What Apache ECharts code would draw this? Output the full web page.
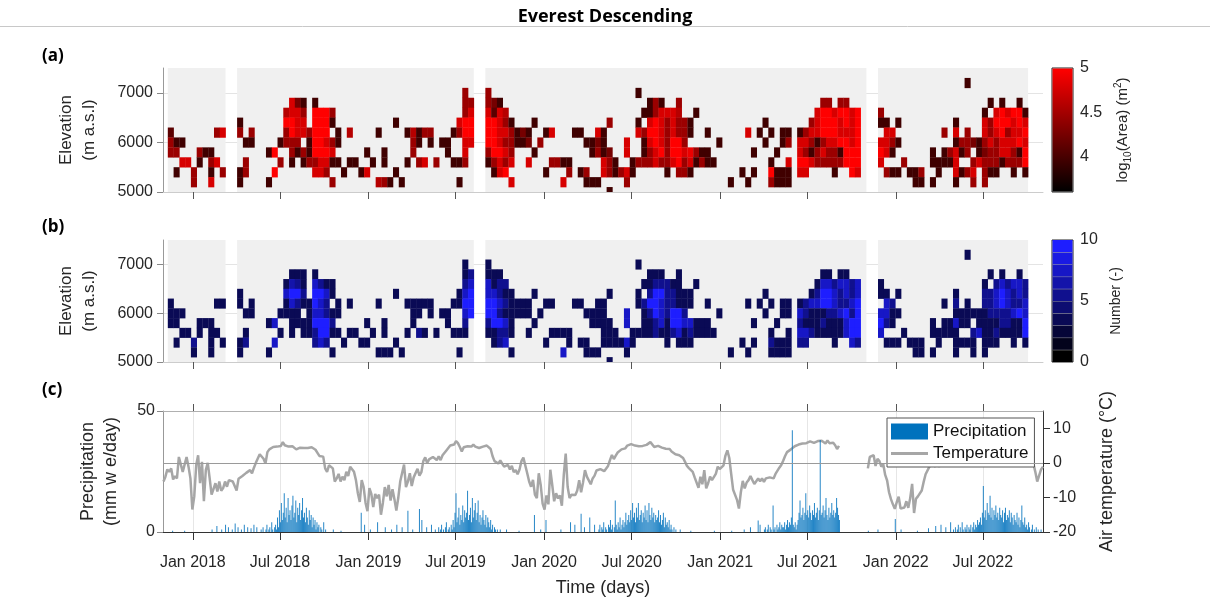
<!DOCTYPE html>
<html><head><meta charset="utf-8">
<script src="https://cdn.jsdelivr.net/npm/echarts@6/dist/echarts.min.js"></script>
<style>html,body{margin:0;padding:0;background:#fff}#chart{width:1210px;height:598px}</style>
</head><body><div id="chart"></div>
<script>
// ---------------- DATA ----------------
const cellStart = '2017-10-29';   // start of 12-day bin 0
const cellDays = 12;
const binHeight = 200;            // m
const elevations = [7200,7000,6800,6600,6400,6200,6000,5800,5600,5400,5200,5000];
// availability (grey) in bin indices
const availableCols = [[1,10],[13,53],[56,121],[124,149]];
// log10(Area) read as levels 1..9 (see areaLevels), "startCol:levels", '.' = empty
const areaLevels = [null, 3.75, 3.95, 4.1, 4.25, 4.45, 4.6, 4.78, 4.9, 5.0];
const areaRows = [
"139:2",
"52:5 56:5 82:2",
"22:742.2 52:55 56:542 84:252..5 114:55.55 143:2.2..2",
"21:6775.9995 52:57 56:7376 83:2257776 92:2 113:79979979 124:5 142:2.797992",
"13:2 21:9977.9992 40:2 51:799 56:99752 64:2 77:5 82:2.79757552 104:2 112:579997979 124:22.2 137:2 142:75999797",
"1:3 9:57 13:5.5 21:59775999.2 32:6 37:2 42:26255 50:2599 56:99775242 66:27 71:22 75:72 82:7599757552 94:2 101:7 103:2.2.22 110:25779997779 125:77 135:5.7.5 142:75795779",
"1:522 14:22 20:2555.299752 43:52.2.22 52:77 56:99755224.5 73:2242 80:7 83:27975995 96:2 104:2 107:25 110:77525779979 124:7752 137:2554257577797",
"1:55 6:522 18:29 22:52529997 35:2 38:2 43:5 49:2 52:7 56:59975 64:2 74:2524 80:7 83:257959978522 102:2 106:2 110:75257552999 124:972 133:2.25725.245577529",
"3:77 6:2.57 14:5 20:5.2.2557722 32:22 36:2 38:2 42:2 44:57 47:5 50:225 56:25757 63:7 67:5522 76:752 81:255575579572522 105:2 108:7 110:99755555999 124:7 128:5 133:22227 140:5755525559",
"2:2 5:5 8:2 10:5 13:25 19:9 26:775 31:2 34:27 40:2 57:279 66:2 70:5 72:25 76:752572 87:2 89:552 100:2 102:2 105:9222 110:77 116:2 119:97 125:522 129:225 134:2 137:7257 142:522 147:2 149:2",
"5:5 8:7 13:2 18:2 29:5 37:652 41:2 51:2 60:7 69:7 73:222 80:5 98:2 101:2 105:5222 130:22 133:2 137:2 140:5 142:5",
"77:2"
];
// detection counts, same layout
const countRows = [
"139:3",
"52:3 56:3 82:3",
"22:333.3 52:35 56:333 84:333..3 114:33.33 143:3.3..3",
"21:3653.7533 52:57 56:7355 83:3355533 92:3 113:37757757 124:3 142:3.575775",
"13:3 21:7995.9973 40:3 51:379 56:77533 64:3 77:3 82:3.59955333 104:3 112:359975757 124:33.3 137:3 142:55797575",
"1:3 9:33 13:3.3 21:37533975.3 32:3 37:3 42:33333 50:3399 56:99753333 66:33 71:33 75:33 82:3599755333 94:3 101:3 103:3.3.33 110:35779975579 125:75 135:3.5.3 142:55797557",
"1:333 14:33 20:3333.377533 43:33.3.33 52:79 56:99533333.3 73:3333 80:7 83:35975995 96:3 104:3 107:33 110:75333557959 124:7733 137:3333335555797",
"1:33 6:333 18:37 22:33339995 35:3 38:3 43:3 49:3 52:5 56:59973 64:3 74:3333 80:7 83:335739977333 102:3 106:3 110:53335333799 124:953 133:3.33733.333355339",
"3:33 6:3.33 14:3 20:3.3.3359933 32:33 36:3 38:3 42:3 44:53 47:3 50:333 56:33553 63:3 67:3333 76:333 81:333353357353333 105:3 108:3 110:77533333799 124:7 128:3 133:33333 140:5733533339",
"2:3 5:5 8:3 10:3 13:35 19:7 26:575 31:3 34:33 40:3 57:357 66:3 70:3 72:33 76:333373 87:3 89:333 100:3 102:3 105:5333 110:55 116:3 119:75 125:333 129:333 134:3 137:3333 142:333 147:3 149:3",
"5:3 8:3 13:3 18:3 29:3 37:333 41:3 51:3 60:3 69:7 73:333 80:3 98:3 101:3 105:3333 130:33 133:3 137:3 140:3 142:3",
"77:3"
];
const blueBands = ['#000000','#03031c','#060638','#0a0a55','#0d0d71','#10108e','#1414aa','#1717c6','#1a1ae3','#1e1eff'];

const tickDates = ['2018-01-01','2018-07-01','2019-01-01','2019-07-01','2020-01-01','2020-07-01','2021-01-01','2021-07-01','2022-01-01','2022-07-01'];

// air temperature (°C), 4-day step from tempStart (null = no data)
const tempStart = '2017-11-01';
const tempStepDays = 4;
const tempValues = [
-5.4,-4.0,-1.9,-2.6,-1.6,-4.8,-3.8,-4.5,1.7,1.7,
-2.6,-3.0,1.7,-1.1,-4.5,-13.5,-9.7,-0.7,2.2,-5.9,
0.3,-11.1,-2.1,0,-4.5,-9.2,-9.7,-5.9,-8.3,-5.4,
-8.1,-7.3,-5.4,-6.9,-5.0,-5.4,-5.4,-5.0,-8.0,-4.6,
-4.7,-3.8,-3.8,-2.9,-3.4,-2.1,-3.0,-1.4,0,0.2,
2.5,3.0,1.2,-0.2,3.1,3.9,4.3,4.6,4.6,4.7,
5.0,4.9,6.0,5.1,4.8,4.7,4.6,4.8,4.4,3.9,
4.1,4.4,4.4,4.3,4.4,4.3,4.4,4.5,4.5,3.8,
2.9,2.0,2.5,1.8,-1.6,-2.6,-0.7,-0.2,-1.6,-5.4,
-4.5,-3.2,-5.4,-4.0,-5.0,-2.6,-3.8,-1.1,-1.3,-2.6,
-5.0,-8.8,-11.3,-5.0,-7.0,-11.6,-14,-7.3,-9.0,-12.8,
-9.0,-10.2,-9.2,-15,-11.6,-7.0,-9.7,-6.4,-10.9,-7.6,
-10.5,-13.8,-10.1,-5.4,-5.0,-0.5,-7.0,-5.4,-3.0,-6.7,
-4.2,-4.5,-1.7,-3.7,-2.7,0.5,1.6,-0.1,1.0,1.0,
1.7,1.7,0.8,1.9,0.8,2.2,2.7,3.6,4.0,5.0,
4.8,5.3,6.3,5.7,4.6,3.3,4.5,4.4,4.8,5.0,
4.7,5.3,4.7,4.9,4.3,4.1,4.7,4.2,5.0,4.6,
4.0,1.9,0.5,1.0,-0.2,0.7,-0.2,-1.1,-1.4,-0.6,
-1.9,-0.9,-2.7,-2.1,-3.3,-1.9,0.5,1.5,1.5,-3.0,
-5.4,-6.9,-4.9,-9.2,-10.2,-3.0,-6.4,-11.8,-13.5,-9.4,
-12.0,-2,-6.4,-11.1,-8.8,-10.3,-9.4,-12.4,-3.5,2.7,
-6.9,-10.2,-9.2,-9.2,-9.3,-8.0,-5.0,-8.5,-5.7,-2.1,
-4.0,-4.4,-6.2,-4.5,-3.7,-2.2,-2.5,-1.8,-1.5,-2.4,
-2.8,-0.9,0.8,2.3,1.1,2.1,3.0,3.0,3.9,4.2,
4.2,5.0,4.6,5.4,5.0,5.0,5.3,4.8,5.0,4.9,
5.2,5.2,5.0,6.0,5.6,4.6,5.0,4.9,4.9,4.4,
4.5,4.1,3.6,4.0,3.3,2.9,2.5,2.6,2.2,2.6,
1.4,0.3,-0.9,-1.5,-1.2,-2.6,-4.2,-4.5,-7.2,-4.0,
-6.2,-2.1,-7.4,-5.9,-4.0,-5.0,-5.4,-3.2,-1.1,-1.8,
-2.1,-0.7,2.1,3.6,1.4,-3.3,-7.8,-8.1,-10.7,-13.2,
-8.5,-5.2,-7.4,-5.7,-5.0,-3.8,-5.0,-6.1,-5.3,-4.5,
-5.3,-4.5,-5.5,-4.5,-4.3,-4.2,-3.7,-4.5,-3.2,-3.3,
-1.4,-0.6,0.6,2.0,3.1,3.6,3.9,4.4,4.8,4.9,
5.3,5.0,5.6,5.5,5.7,5.6,6.2,5.7,5.8,5.5,
6.3,6.7,6.4,6.5,5.6,6.5,5.7,5.3,5.8,5.1,
4.0,4.9,null,null,null,null,null,null,null,null,
null,null,null,null,null,null,-1.6,1.7,1.4,2.2,
-0.9,1.2,0.5,-1.1,-0.4,-3.5,-5.1,-8.5,-10.5,-12.0,
-13.3,-11.4,-9.8,-13.2,-13.7,-12.9,-11.1,-13.0,-10.2,-6.1,
-14.5,-10.4,-9.7,-10.0,-8.0,-5.5,-3.3,-3.7,-1.1,-0.4,
-0.2,-1.0,0,-1.1,-0.2,-0.7,0.3,-1.0,-0.2,0.8,
-0.4,1.0,0,1.2,0.3,1.9,0.8,2.2,2.9,3.5,
4,4.5,4.2,4.8,5,4.6,5.2,4.9,5.4,5,
5.3,4.8,5.1,5.5,5,4.7,5.2,4.9,4.6,5,
4.4,4.7,4.2,4,4.3,3.8,3.5,3.1,2.6,2.2,
1.5,0.8,-0.2,-2.6,-5.4,-5.0,-1.9,-1.1];

// precipitation (mm w.e./day): monsoon seasons at 2-day step
const precipSeasonStart = ['2018-05-21','2019-05-25','2020-04-24','2021-04-01','2022-05-01'];
const precipStepDays = 2;
const precip2018 = [0,1,0,2,0,0,1,3,0,1,2,0,4,1,0,2,3,1,6,2,9,4,12,5,8,16,6,10,4,14,7,9,5,11,15,6,8,13,4,10,7,12,5,9,14,6,8,4,10,6,3,9,5,7,2,6,3,5,1,4,2,3,0,2,1,0,4,0,1,0];
const precip2019 = [0,2,0,1,3,0,1,0,2,4,0,1,2,0,3,1,5,2,8,16,4,6,10,3,7,5,11,4,9,6,8,17,5,7,10,4,14,6,9,12,5,8,13,4,7,3,6,9,5,3,7,2,6,4,2,5,1,3,0,2,1,0,1,0,0,1];
const precip2020 = [1,3,0,2,1,4,0,2,1,0,3,2,5,1,3,0,2,13,3,1,4,2,6,1,3,5,2,4,8,3,5,7,4,9,5,12,6,8,4,10,6,12,5,7,9,4,8,6,11,5,9,4,12,7,5,10,6,8,4,7,5,6,9,4,7,3,5,8,2,6,3,4,2,5,1,3,1,0,2,0,1];
const precip2021 = [0,1,2,0,1,3,0,2,1,0,11,1,2,0,3,1,2,4,1,3,2,2,4,1,3,5,2,4,3,6,42,3,2,4,1,3,5,8,13,6,7,10,5,8,16,7,9,6,11,8,5,9,7,12,6,8,10,5,9,38,7,8,11,6,9,14,7,5,10,6,8,12,7,9,6,8,14,10,7,5];
const precip2022 = [1,0,2,0,1,3,0,2,0,4,1,0,2,1,3,0,2,1,3,0,2,4,1,3,2,5,3,4,6,3,8,19,6,9,5,12,8,7,15,6,10,5,9,7,11,6,8,5,10,7,6,9,4,8,10,5,7,6,9,4,8,6,3,7,5,4,8,3,6,2,5,11,4,3,6,2,3,1,4,2,0,1,3,0,1,0,2,0,1,0,0,1];
// scattered dry-season precipitation
const precipDryDates = ['2017-11-20','2017-12-15','2018-02-10','2018-02-20','2018-03-02','2018-03-10','2018-03-16','2018-03-24','2018-03-30','2018-04-05','2018-04-12','2018-04-18','2018-04-25','2018-05-02','2018-05-08','2018-05-14','2018-10-20','2018-11-05','2018-12-17','2018-12-24','2019-01-05','2019-01-20','2019-02-05','2019-02-18','2019-03-01','2019-03-12','2019-03-24','2019-04-03','2019-04-17','2019-04-22','2019-05-02','2019-05-12','2019-05-20','2019-10-15','2019-11-10','2019-12-12','2019-12-25','2020-01-05','2020-02-05','2020-02-25','2020-03-05','2020-03-18','2020-03-25','2020-04-05','2020-04-15','2020-10-10','2020-11-01','2020-12-20','2021-01-25','2021-02-20','2021-03-05','2021-03-21','2021-03-25','2021-11-05','2021-11-25','2021-12-31','2022-01-12','2022-02-15','2022-03-10','2022-03-25','2022-04-05','2022-04-15','2022-04-25'];
const precipDryValues = [0.5,0.5,1,2.5,1,3,2,1,3.5,2,1,3,2,1.5,3,2,1,0.5,8,3,1,4,2,1,3,2,8.8,1,9.5,5,2,3,1,1,0.5,7,1,5,1,4,3,7.5,2,6,3,1,0.5,0.5,0.5,1,2,4.8,3,0.5,1,5.4,1,0.5,1.5,2.5,3,2,4];

// ---------------- BUILD ----------------
const DAY = 86400000;
const toTs = s => Date.parse(s + 'T00:00:00Z');
const cell0 = toTs(cellStart);
const colTime = c => cell0 + c * cellDays * DAY;
function parseRows(rows, toValue){
  const out = [];
  rows.forEach((row, i) => {
    if (!row) return;
    row.split(' ').forEach(seg => {
      const parts = seg.split(':'); const c0 = +parts[0]; const d = parts[1];
      for (let k = 0; k < d.length; k++) {
        if (d[k] === '.') continue;
        out.push([colTime(c0 + k), elevations[i], toValue(+d[k])]);
      }
    });
  });
  return out;
}
const areaData = parseRows(areaRows, l => areaLevels[l]);
const countData = parseRows(countRows, l => l + 0.5);
const availData = availableCols.map(r => [colTime(r[0]), colTime(r[1] + 1), 5000, 7500]);
const tickTimes = tickDates.map(toTs);
const xMin = Date.UTC(2017, 9, 31), xMax = Date.UTC(2022, 10, 3);
const tempData = tempValues.map((v, i) => [toTs(tempStart) + i * tempStepDays * DAY, v]);
const seasons = [precip2018, precip2019, precip2020, precip2021, precip2022];
let precipData = [];
seasons.forEach((arr, s) => { const t0 = toTs(precipSeasonStart[s]); arr.forEach((v, i) => precipData.push([t0 + i * precipStepDays * DAY, v])); });
precipDryDates.forEach((d, i) => precipData.push([toTs(d), precipDryValues[i]]));
precipData.sort((a, b) => a[0] - b[0]);

const FONT = '"Liberation Sans", Arial, sans-serif';
const LBL = '#262626';

function cellRender(params, api){
  const t = api.value(0), e = api.value(1);
  const p1 = api.coord([t, e + binHeight / 2]);
  const p2 = api.coord([t + cellDays * DAY, e - binHeight / 2]);
  const cs = params.coordSys;
  const r = echarts.graphic.clipRectByRect(
    {x: p1[0], y: p1[1], width: p2[0] - p1[0] + 0.3, height: p2[1] - p1[1] + 0.3},
    {x: cs.x, y: cs.y, width: cs.width, height: cs.height});
  return r && {type: 'rect', shape: r, style: {fill: api.visual('color')}};
}
function availRender(params, api){
  const p1 = api.coord([api.value(0), api.value(3)]);
  const p2 = api.coord([api.value(1), api.value(2)]);
  return {type: 'rect', shape: {x: p1[0], y: p1[1], width: p2[0] - p1[0], height: p2[1] - p1[1]}, style: {fill: '#f0f0f0'}};
}
const monthName = v => { const d = new Date(v); return (d.getUTCMonth() === 0 ? 'Jan' : 'Jul') + ' ' + d.getUTCFullYear(); };

function timeAxis(gi, extra){
  return Object.assign({
    type: 'value', gridIndex: gi, min: xMin, max: xMax,
    axisLine: {show: true, onZero: false, lineStyle: {color: '#cccccc'}},
    axisTick: {show: true, customValues: tickTimes, length: 7, lineStyle: {color: '#555'}},
    axisLabel: {show: false, customValues: tickTimes},
    splitLine: {show: false}
  }, extra || {});
}
function elevAxis(gi){
  return {
    type: 'value', gridIndex: gi, min: 5000, max: 7500,
    axisLine: {show: true, lineStyle: {color: '#999'}},
    axisTick: {show: true, customValues: [5000, 6000, 7000], length: 6, lineStyle: {color: '#888'}},
    axisLabel: {customValues: [5000, 6000, 7000], formatter: v => String(v), fontSize: 16, color: LBL, fontFamily: FONT, margin: 10},
    splitLine: {show: true, lineStyle: {color: '#e4e4e4'}},
    name: 'Elevation\n(m a.s.l)', nameLocation: 'middle', nameGap: 62, nameRotate: 90,
    nameTextStyle: {fontSize: 17, color: LBL, fontFamily: FONT, lineHeight: 23}
  };
}

const chart = echarts.init(document.getElementById('chart'), null, {renderer: 'canvas'});
chart.setOption({
  animation: false,
  backgroundColor: '#fff',
  textStyle: {fontFamily: FONT},
  grid: [
    {left: 163, top: 68, width: 880, height: 124},
    {left: 163, top: 240, width: 880, height: 122},
    {left: 163, top: 411, width: 880, height: 122},
    {left: 1052, top: 68, width: 21, height: 124, show: true, borderColor: '#222', borderWidth: 1},
    {left: 1052, top: 240, width: 21, height: 122, show: true, borderColor: '#222', borderWidth: 1}
  ],
  xAxis: [
    timeAxis(0),
    timeAxis(1),
    timeAxis(2, {
      axisLine: {show: true, onZero: false, lineStyle: {color: '#333'}},
      axisTick: {show: true, customValues: tickTimes, length: 8, lineStyle: {color: '#333'}},
      axisLabel: {show: true, customValues: tickTimes, formatter: monthName, fontSize: 16, color: LBL, fontFamily: FONT, margin: 23},
      splitLine: {show: true, lineStyle: {color: '#e6e6e6'}},
      name: 'Time (days)', nameLocation: 'middle', nameGap: 47,
      nameTextStyle: {fontSize: 18, color: LBL, fontFamily: FONT}
    }),
    timeAxis(2, {position: 'top',
      axisLine: {show: true, onZero: false, lineStyle: {color: '#b0b0b0'}},
      axisTick: {show: true, customValues: tickTimes, length: 7, lineStyle: {color: '#555'}}}),
    {type: 'category', gridIndex: 3, data: ['c'], show: false},
    {type: 'category', gridIndex: 4, data: ['c'], show: false}
  ],
  yAxis: [
    elevAxis(0),
    elevAxis(1),
    {type: 'value', gridIndex: 2, min: 0, max: 50, interval: 50,
      axisLine: {show: true, lineStyle: {color: '#999'}},
      axisTick: {show: true, length: 6, lineStyle: {color: '#888'}},
      axisLabel: {fontSize: 16, color: LBL, fontFamily: FONT, margin: 8},
      splitLine: {show: false},
      name: 'Precipitation\n(mm w e/day)', nameLocation: 'middle', nameGap: 40, nameRotate: 90,
      nameTextStyle: {fontSize: 18, color: LBL, fontFamily: FONT, lineHeight: 23}},
    {type: 'value', gridIndex: 2, min: -20, max: 15, position: 'right',
      axisLine: {show: true, lineStyle: {color: '#333'}},
      axisTick: {show: true, customValues: [-20, -10, 0, 10], length: 7, lineStyle: {color: '#333'}},
      axisLabel: {customValues: [-20, -10, 0, 10], fontSize: 16, color: LBL, fontFamily: FONT, margin: 10},
      splitLine: {show: false},
      name: 'Air temperature (°C)', nameLocation: 'middle', nameGap: 55, nameRotate: 90,
      nameTextStyle: {fontSize: 18, color: LBL, fontFamily: FONT}},
    {type: 'value', gridIndex: 3, min: 3.6, max: 5, position: 'right',
      axisLine: {show: false}, axisTick: {show: false}, splitLine: {show: false},
      axisLabel: {customValues: [4, 4.5, 5], fontSize: 16, color: LBL, fontFamily: FONT, margin: 7},
      name: 'log{sub|10}(Area) (m{sup|2})', nameLocation: 'middle', nameGap: 40, nameRotate: 90,
      nameTextStyle: {fontSize: 15, color: LBL, fontFamily: FONT, lineHeight: 20,
        rich: {sub: {fontSize: 10, verticalAlign: 'bottom', lineHeight: 20, color: LBL, fontFamily: FONT, padding: [6, 0, 0, 0]},
               sup: {fontSize: 10, verticalAlign: 'top', lineHeight: 20, color: LBL, fontFamily: FONT, padding: [0, 0, 6, 0]}}}},
    {type: 'value', gridIndex: 4, min: 0, max: 10, position: 'right',
      axisLine: {show: false}, axisTick: {show: false}, splitLine: {show: false},
      axisLabel: {customValues: [0, 5, 10], fontSize: 16, color: LBL, fontFamily: FONT, margin: 7},
      name: 'Number (-)', nameLocation: 'middle', nameGap: 36, nameRotate: 90,
      nameTextStyle: {fontSize: 14, color: LBL, fontFamily: FONT}}
  ],
  visualMap: [
    {type: 'continuous', show: false, seriesIndex: 1, dimension: 2, min: 3.6, max: 5, inRange: {color: ['#000000', '#ff0000']}},
    {type: 'piecewise', show: false, seriesIndex: 3, dimension: 2,
      pieces: blueBands.map((c, k) => ({gte: k, lt: k + 1, color: c}))}
  ],
  legend: {
    show: true, orient: 'vertical', left: 887, top: 418,
    itemWidth: 37, itemHeight: 16, itemGap: 5, symbolKeepAspect: true,
    backgroundColor: '#fff', borderColor: '#555', borderWidth: 1, padding: [5, 6, 5, 4],
    textStyle: {fontSize: 17, color: '#111', fontFamily: FONT},
    data: [{name: 'Precipitation', icon: 'rect', itemStyle: {color: '#0072BD', opacity: 1}},
           {name: 'Temperature', icon: 'path://M0,0H37V3H0Z', itemStyle: {color: '#a6a6a6'}}]
  },
  graphic: [
    {type: 'line', shape: {x1: 0, y1: 26.5, x2: 1210, y2: 26.5}, style: {stroke: '#c8c8c8', lineWidth: 1}},
    {type: 'text', left: 'center', top: 8, style: {text: 'Everest Descending', font: 'bold 18px "Open Sans", sans-serif', fill: '#000'}},
    {type: 'text', left: 42, top: 48, style: {text: '(a)', font: 'bold 17px "Open Sans", sans-serif', fill: '#000'}},
    {type: 'text', left: 42, top: 219, style: {text: '(b)', font: 'bold 17px "Open Sans", sans-serif', fill: '#000'}},
    {type: 'text', left: 42, top: 382, style: {text: '(c)', font: 'bold 17px "Open Sans", sans-serif', fill: '#000'}}
  ],
  series: [
    {type: 'custom', xAxisIndex: 0, yAxisIndex: 0, renderItem: availRender, data: availData, encode: {x: [0, 1], y: [2, 3]}, silent: true, z: 1},
    {type: 'custom', xAxisIndex: 0, yAxisIndex: 0, renderItem: cellRender, data: areaData, encode: {x: 0, y: 1}, silent: true, z: 2},
    {type: 'custom', xAxisIndex: 1, yAxisIndex: 1, renderItem: availRender, data: availData, encode: {x: [0, 1], y: [2, 3]}, silent: true, z: 1},
    {type: 'custom', xAxisIndex: 1, yAxisIndex: 1, renderItem: cellRender, data: countData, encode: {x: 0, y: 1}, silent: true, z: 2},
    {name: 'Temperature', type: 'line', xAxisIndex: 2, yAxisIndex: 3, data: tempData, symbol: 'none', showSymbol: false,
      connectNulls: false, lineStyle: {color: '#a6a6a6', width: 2.5}, itemStyle: {color: '#a6a6a6'}, z: 2,
      markLine: {silent: true, symbol: 'none', label: {show: false}, data: [{yAxis: 0}], lineStyle: {color: '#9a9a9a', width: 1, type: 'solid'}}},
    {name: 'Precipitation', type: 'bar', xAxisIndex: 2, yAxisIndex: 2, data: precipData, barWidth: 1,
      itemStyle: {color: '#0072BD', opacity: 0.85}, z: 3},
    {type: 'custom', xAxisIndex: 4, yAxisIndex: 4, data: [[0, 5]], encode: {x: 0, y: 1}, silent: true,
      renderItem: (params, api) => {
        const cs = params.coordSys;
        const top = api.coord([0, 5])[1], bot = api.coord([0, 3.6])[1];
        return {type: 'rect', shape: {x: cs.x + 0.5, y: top + 0.5, width: cs.width - 1, height: bot - top - 1},
          style: {fill: new echarts.graphic.LinearGradient(0, 0, 0, 1, [{offset: 0, color: '#ff0000'}, {offset: 1, color: '#000000'}])}};
      }},
    {type: 'custom', xAxisIndex: 5, yAxisIndex: 5, data: blueBands.map((c, k) => [0, k]), encode: {x: 0, y: 1}, silent: true,
      renderItem: (params, api) => {
        const cs = params.coordSys; const k = api.value(1);
        const top = api.coord([0, k + 1])[1], bot = api.coord([0, k])[1];
        const children = [{type: 'rect', shape: {x: cs.x + 0.5, y: top, width: cs.width - 1, height: bot - top}, style: {fill: blueBands[k]}}];
        if (k < 9) children.push({type: 'line', shape: {x1: cs.x + 1, y1: top, x2: cs.x + cs.width - 1, y2: top}, style: {stroke: '#9a9a9a', lineWidth: 1}});
        return {type: 'group', children};
      }}
  ]
});
</script>
</body></html>
